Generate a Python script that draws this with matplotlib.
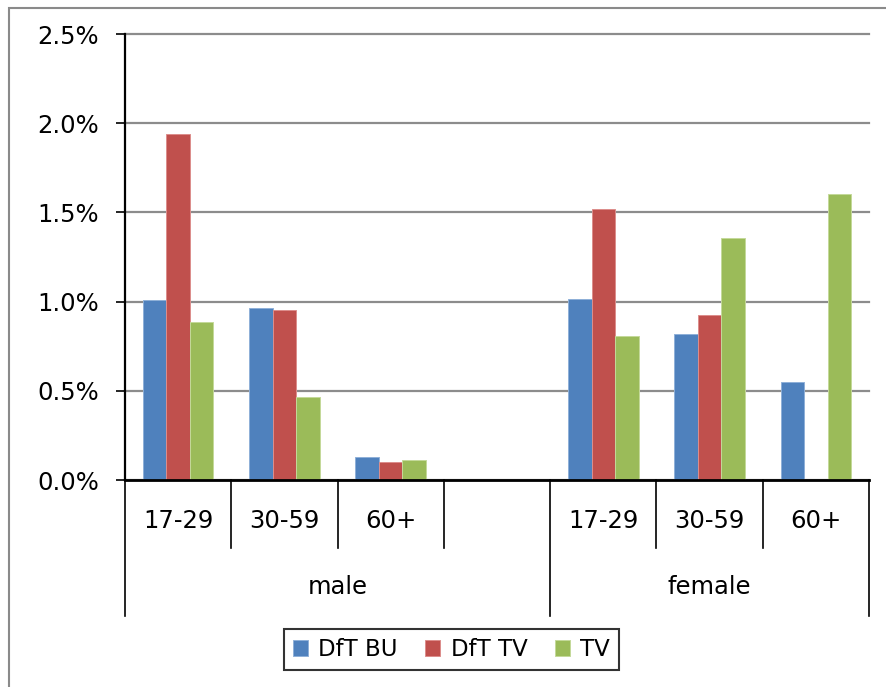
import numpy as np
import matplotlib
matplotlib.use("Agg")
import matplotlib.pyplot as plt
from matplotlib.ticker import PercentFormatter, MultipleLocator
from matplotlib.patches import Rectangle
import matplotlib.transforms as mtransforms

plt.rcParams["font.family"] = ["DejaVu Sans"]

# category axis: age bands nested in sex, with an empty slot between the groups
age_labels = ["17-29", "30-59", "60+", "", "17-29", "30-59", "60+"]
group_labels = ["male", "female"]
group_spans = [(0, 4), (4, 7)]

series_names = ["DfT BU", "DfT TV", "TV"]
dft_bu = [1.010, 0.963, 0.130, np.nan, 1.015, 0.820, 0.550]
dft_tv = [1.937, 0.952, 0.100, np.nan, 1.520, 0.924, np.nan]
tv = [0.885, 0.465, 0.110, np.nan, 0.808, 1.355, 1.603]
series_colors = ["#4F81BD", "#C0504D", "#9BBB59"]
edge_colors = ["#8FB0D8", "#DC8E8C", "#C4D99A"]

W, H = 886, 687
fig = plt.figure(figsize=(W / 100, H / 100), dpi=100)

# chart-area border (continues past the right and bottom edges)
fig.patches.append(Rectangle((9 / W, -0.1), 1.2, (H - 8) / H + 0.1,
                             transform=fig.transFigure, fill=False,
                             edgecolor="#8a8a8a", linewidth=1.5, zorder=0))

ax = fig.add_axes([125 / W, (H - 480) / H, (869 - 125) / W, (480 - 34) / H])

n = len(age_labels)
x = np.arange(n) + 0.5
bw = 0.221
for k, (vals, col, ec) in enumerate(zip([dft_bu, dft_tv, tv], series_colors, edge_colors)):
    ax.bar(x + (k - 1) * bw, np.array(vals) / 100, width=bw, color=col,
           edgecolor=ec, linewidth=0.7, label=series_names[k], zorder=3)

ax.set_xlim(0, n)
ax.set_ylim(0, 0.025)
ax.yaxis.set_major_locator(MultipleLocator(0.005))
ax.yaxis.set_major_formatter(PercentFormatter(1.0, decimals=1))
ax.grid(axis="y", color="#8c8c8c", linewidth=1.6, zorder=0)
ax.set_axisbelow(True)
for gl in ax.get_ygridlines():
    gl.set_clip_on(False)

for s in ["top", "right"]:
    ax.spines[s].set_visible(False)
ax.spines["left"].set_color("black")
ax.spines["left"].set_linewidth(1.6)
ax.spines["bottom"].set_color("black")
ax.spines["bottom"].set_linewidth(2.0)
ax.spines["bottom"].set_zorder(4)

ax.tick_params(axis="y", direction="out", length=6.5, width=1.2,
               labelsize=17.5, pad=12, colors="black")
ax.set_xticks([])

# two-level category labels drawn below the axis
tr = mtransforms.blended_transform_factory(ax.transData, ax.transAxes)
short_y = -68 / 446
long_y = -136 / 446
for b in range(n + 1):
    is_long = b in (0, 4, n)
    ax.plot([b, b], [0, long_y if is_long else short_y], transform=tr,
            color="black", linewidth=1.2, clip_on=False, zorder=5)
for xi, lab in zip(x, age_labels):
    if lab:
        ax.text(xi, -41 / 446, lab, transform=tr, ha="center", va="center",
                fontsize=17.5, color="black")
for (a, b), lab in zip(group_spans, group_labels):
    ax.text((a + b) / 2, -107 / 446, lab, transform=tr, ha="center",
            va="center", fontsize=17.5, color="black")

leg = fig.legend(loc="center", bbox_to_anchor=(451.5 / W, 37.5 / H),
                 bbox_transform=fig.transFigure, ncol=3, fontsize=16.5,
                 frameon=True, fancybox=False, handlelength=0.65,
                 handleheight=0.65, handletextpad=0.45, columnspacing=1.2,
                 borderpad=0.4, borderaxespad=0)
leg.get_frame().set_edgecolor("black")
leg.get_frame().set_linewidth(1.5)

fig.savefig("out.png", dpi=100)
